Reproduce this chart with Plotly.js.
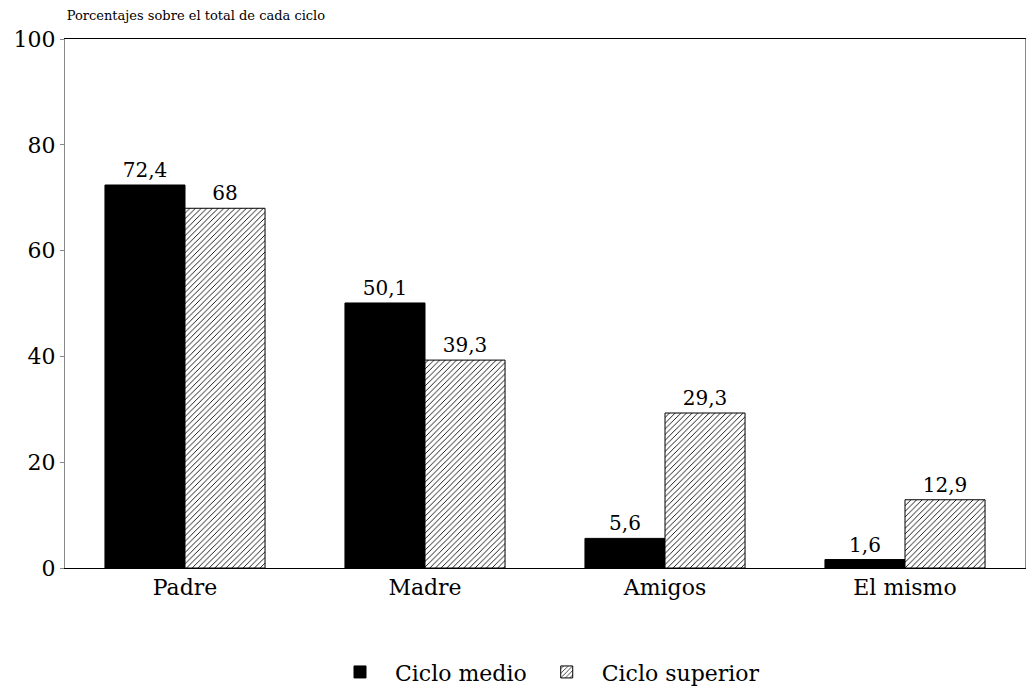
<!DOCTYPE html>
<html>
<head>
<meta charset="utf-8">
<script src="https://cdn.plot.ly/plotly-3.0.1.min.js"></script>
<style>html,body{margin:0;padding:0;background:#fff;}#chart{width:1027px;height:694px;}</style>
</head>
<body>
<div id="chart"></div>
<script>
const categories = ["Padre", "Madre", "Amigos", "El mismo"];
const cicloMedio = [72.4, 50.1, 5.6, 1.6];
const cicloSuperior = [68, 39.3, 29.3, 12.9];
const seriesNames = ["Ciclo medio", "Ciclo superior"];
const yTicks = [0, 20, 40, 60, 80, 100];

const serif = "DejaVu Serif, Liberation Serif, serif";

const traces = [
  {
    type: "bar", name: seriesNames[0], x: categories, y: cicloMedio,
    marker: {color: "#000", line: {color: "#000", width: 1}},
    texttemplate: "%{y}", textposition: "outside", cliponaxis: false,
    textfont: {family: serif, size: 20, color: "#000"}
  },
  {
    type: "bar", name: seriesNames[1], x: categories, y: cicloSuperior,
    marker: {color: "#fff", line: {color: "#000", width: 1},
      pattern: {shape: "/", fgcolor: "#000", bgcolor: "#fff", size: 4, solidity: 0.22}},
    texttemplate: "%{y}", textposition: "outside", cliponaxis: false,
    textfont: {family: serif, size: 20, color: "#000"}
  }
];

const layout = {
  width: 1027, height: 694,
  margin: {l: 65, r: 2, t: 39, b: 125},
  paper_bgcolor: "#fff", plot_bgcolor: "#fff",
  separators: ",.",
  barmode: "group", bargap: 0.333, bargroupgap: 0,
  font: {family: serif, color: "#000"},
  title: {text: "Porcentajes sobre el total de cada ciclo", x: 0.065, xanchor: "left",
    y: 0.985, yanchor: "top", font: {family: serif, size: 13, color: "#000"}},
  xaxis: {
    showline: true, linecolor: "#000", linewidth: 1, mirror: true,
    ticks: "", tickfont: {family: serif, size: 22, color: "#000"},
    showgrid: false
  },
  yaxis: {
    range: [0, 100], tickvals: yTicks, showline: true, linecolor: "#888", linewidth: 1,
    mirror: true, ticks: "outside", ticklen: 4, tickcolor: "#888",
    showgrid: false, zeroline: false,
    tickfont: {family: serif, size: 22, color: "#000"}
  },
  showlegend: true,
  legend: {orientation: "h", x: 0.5, xanchor: "center", y: -0.155, yanchor: "top",
    font: {family: serif, size: 22, color: "#000"}, itemwidth: 60, traceorder: "normal"}
};

Plotly.newPlot("chart", traces, layout, {displayModeBar: false, staticPlot: true});
</script>
</body>
</html>
